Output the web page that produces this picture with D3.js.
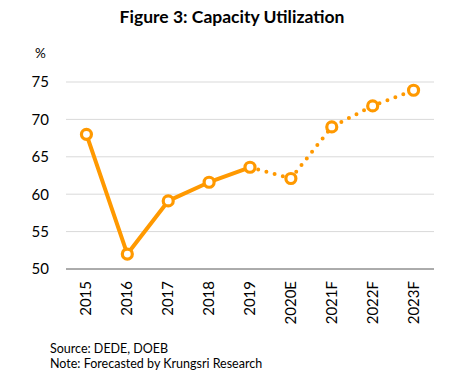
<!DOCTYPE html>
<html>
<head>
<meta charset="utf-8">
<script src="https://cdn.jsdelivr.net/npm/d3@7"></script>
<style>
  body { margin: 0; background: #fff; }
  text { font-family: Lato, "Open Sans", sans-serif; fill: #000; }
</style>
</head>
<body>
<div id="chart"></div>
<script>
// data
var years = ["2015", "2016", "2017", "2018", "2019", "2020E", "2021F", "2022F", "2023F"];
var actual = [68.0, 52.0, 59.1, 61.6, 63.6];
var forecast = [63.6, 62.1, 69.0, 71.8, 73.9];   // starts at 2019 to join the lines
var yTicks = [50, 55, 60, 65, 70, 75];

var width = 465, height = 378;
var plotL = 66, plotR = 434, plotT = 82, plotB = 269;
var orange = "#FF9900";

var svg = d3.select("#chart").append("svg")
    .attr("width", width)
    .attr("height", height);

var x = d3.scaleBand().domain(years).range([plotL, plotR]);
var y = d3.scaleLinear().domain([50, 75]).range([plotB, plotT]);

svg.append("text")
    .attr("x", 232).attr("y", 23)
    .attr("text-anchor", "middle")
    .style("font-weight", "bold")
    .style("font-size", "17.5px")
    .text("Figure 3: Capacity Utilization");

svg.append("text")
    .attr("x", 35).attr("y", 58)
    .style("font-size", "13.5px")
    .text("%");

// gridlines
svg.append("g").selectAll("line")
    .data(yTicks.filter(d => d > 50))
    .enter().append("line")
    .attr("x1", plotL).attr("x2", plotR)
    .attr("y1", d => y(d)).attr("y2", d => y(d))
    .attr("stroke", "#d9d9d9").attr("stroke-width", 1);

// y labels
var yAxis = svg.append("g")
    .attr("transform", `translate(${plotL - 17},0)`)
    .call(d3.axisLeft(y).tickValues(yTicks).tickSize(0).tickPadding(0));
yAxis.select(".domain").remove();
yAxis.selectAll("text").style("font-size", "15px").attr("fill", "#000");

// x axis baseline
svg.append("line")
    .attr("x1", plotL).attr("x2", plotR)
    .attr("y1", plotB).attr("y2", plotB)
    .attr("stroke", "#595959").attr("stroke-width", 1);

// x labels, rotated
svg.append("g").selectAll("text")
    .data(years)
    .enter().append("text")
    .attr("transform", d => `translate(${x(d) + x.bandwidth() / 2 + 5},${281}) rotate(-90)`)
    .attr("text-anchor", "end")
    .style("font-size", "15px")
    .text(d => d);

var cx = d => x(d) + x.bandwidth() / 2;
var line = d3.line().x(d => cx(d.year)).y(d => y(d.v));

var actualPts = actual.map((v, i) => ({ year: years[i], v: v }));
var forecastPts = forecast.map((v, i) => ({ year: years[i + 4], v: v }));

svg.append("path")
    .datum(forecastPts)
    .attr("d", line)
    .attr("fill", "none")
    .attr("stroke", orange)
    .attr("stroke-width", 4)
    .attr("stroke-linecap", "round")
    .attr("stroke-dasharray", "0,8.5");

svg.append("path")
    .datum(actualPts)
    .attr("d", line)
    .attr("fill", "none")
    .attr("stroke", orange)
    .attr("stroke-width", 4)
    .attr("stroke-linejoin", "round");

var allPts = actualPts.concat(forecastPts.slice(1));
svg.append("g").selectAll("circle")
    .data(allPts)
    .enter().append("circle")
    .attr("cx", d => cx(d.year))
    .attr("cy", d => y(d.v))
    .attr("r", 5)
    .attr("fill", "#fff")
    .attr("stroke", orange)
    .attr("stroke-width", 3.2);

svg.append("text")
    .attr("x", 50).attr("y", 353)
    .style("font-size", "12.5px")
    .text("Source: DEDE, DOEB");
svg.append("text")
    .attr("x", 50).attr("y", 368)
    .style("font-size", "12.5px")
    .text("Note: Forecasted by Krungsri Research");
</script>
</body>
</html>
